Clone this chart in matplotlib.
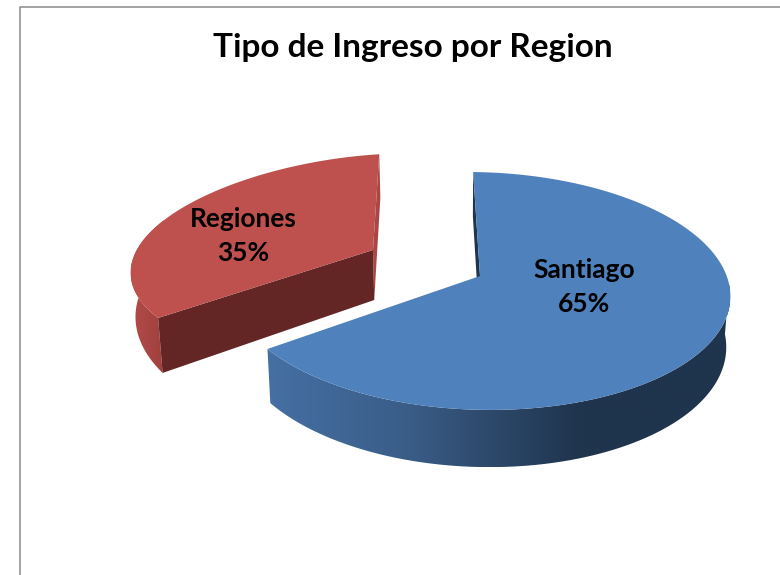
"""Tipo de Ingreso por Region: pie 3D dibujado con parches (matplotlib no tiene pie 3D)."""

import numpy as np
import matplotlib
matplotlib.use("Agg")
import matplotlib.pyplot as plt
from matplotlib.colors import LinearSegmentedColormap
from matplotlib.patches import Polygon

# ── Datos ──
regiones = ["Santiago", "Regiones"]
porcentajes = [65, 35]
titulo = "Tipo de Ingreso por Region"

# ── Estilo / geometria (px) ──
ANGULO_INICIO = -1.0
PROFUNDIDAD = 50.0
VX = 455.0
ESCALA_BASE = 0.985

geo_santiago = dict(ax=480.0, ay=276.0, rx=248.0, ry=117.0, p=0.126, h=4.0, q=0.0)
geo_regiones = dict(ax=373.0, ay=250.0, rx=238.0, ry=110.0, p=0.15, h=6.0, q=12.0)

# Angulos de cada sector a partir de los porcentajes
total = sum(porcentajes)
fin_santiago = ANGULO_INICIO + 360.0 * porcentajes[0] / total
fin_regiones = fin_santiago + 360.0 * porcentajes[1] / total


def borde(geo, ang, abajo=False):
    """Puntos del borde del disco para angulos en grados (horario desde arriba)."""
    ang = np.asarray(ang, dtype=float)
    a = np.radians(ang)
    s = 1.0 / (1.0 + geo["p"] * np.cos(a))
    x = geo["ax"] + geo["rx"] * np.sin(a) * s + (VX - geo["ax"]) * 0.12 * np.cos(a)
    y = geo["ay"] - geo["ry"] * np.cos(a) * s + geo["h"] * np.sin(a)
    if abajo:
        x = VX + (x - VX) * ESCALA_BASE
        y = y + PROFUNDIDAD * s
    else:
        # aplana el borde superior izquierdo del sector rojo
        y = y + geo["q"] * np.sin(np.pi * (ang - fin_santiago) / (fin_regiones - fin_santiago))
    return np.column_stack([x, y])


def centro(geo, abajo=False):
    x, y = geo["ax"], geo["ay"]
    if abajo:
        return [VX + (x - VX) * ESCALA_BASE, y + PROFUNDIDAD]
    return [x, y]


def lado_gradiente(ax, puntos, xs, colores, zorder):
    cmap = LinearSegmentedColormap.from_list("g", list(zip(xs, colores)))
    xmin, xmax = puntos[:, 0].min(), puntos[:, 0].max()
    ymin, ymax = puntos[:, 1].min(), puntos[:, 1].max()
    grad = np.linspace(0, 1, 256).reshape(1, -1)
    im = ax.imshow(grad, cmap=cmap, extent=(xmin, xmax, ymax, ymin),
                   aspect="auto", zorder=zorder, interpolation="bilinear")
    im.set_clip_path(Polygon(puntos, closed=True, transform=ax.transData))


fig = plt.figure(figsize=(7.8, 5.75), dpi=100)
ax = fig.add_axes([0, 0, 1, 1])
ax.axis("off")

# Marco del grafico (solo arriba e izquierda quedan dentro del recorte)
ax.plot([19.5, 19.5, 780], [575, 6.5, 6.5], color="#8a8a8a", lw=1.1, zorder=1)

# ── Regiones (rojo) ──
g = geo_regiones
arco = np.linspace(fin_santiago, fin_regiones, 120)
lado_arco = np.linspace(fin_santiago, 290, 40)
lado = np.vstack([borde(g, lado_arco), borde(g, lado_arco[::-1], abajo=True)])
lado_gradiente(ax, lado, [0, 1], ["#B34B48", "#9C3F3C"], 2)

# cara interior fina a la derecha
fin = [fin_regiones]
ax.add_patch(Polygon([centro(g), borde(g, fin)[0], borde(g, fin, abajo=True)[0], centro(g, abajo=True)],
                     closed=True, fc="#A84744", ec="none", zorder=3))
# cara de corte oscura
ini = [fin_santiago]
ax.add_patch(Polygon([borde(g, ini)[0], centro(g), centro(g, abajo=True), borde(g, ini, abajo=True)[0]],
                     closed=True, fc="#632625", ec="none", zorder=3))
ax.add_patch(Polygon(np.vstack([[centro(g)], borde(g, arco)]), closed=True,
                     fc="#BE504D", ec="none", zorder=4))

# ── Santiago (azul) ──
g = geo_santiago
ini = [ANGULO_INICIO]
ax.add_patch(Polygon([borde(g, ini)[0], centro(g), centro(g, abajo=True), borde(g, ini, abajo=True)[0]],
                     closed=True, fc="#1F344D", ec="none", zorder=5))
lado_arco = np.linspace(92, fin_santiago, 120)
lado = np.vstack([borde(g, lado_arco), borde(g, lado_arco[::-1], abajo=True)])
lado_gradiente(ax, lado, [0, 0.3, 0.5, 0.68, 1],
               ["#4570A3", "#3A5D88", "#2C4768", "#1F344D", "#1F344D"], 6)
arco = np.linspace(ANGULO_INICIO, fin_santiago, 200)
ax.add_patch(Polygon(np.vstack([[centro(g)], borde(g, arco)]), closed=True,
                     fc="#4F81BD", ec="none", zorder=7))

# ── Textos ──
fuente = dict(family="Lato", weight="bold", color="black", ha="center", va="center", zorder=9)
ax.text(413, 47, titulo, fontsize=24, **fuente)
ax.text(584, 287, f"{regiones[0]}\n{porcentajes[0]}%", fontsize=19, linespacing=1.5, **fuente)
ax.text(243, 236, f"{regiones[1]}\n{porcentajes[1]}%", fontsize=19, linespacing=1.5, **fuente)

ax.set_xlim(0, 780)
ax.set_ylim(575, 0)

fig.savefig("out.png", dpi=100, facecolor="white")
plt.close(fig)
